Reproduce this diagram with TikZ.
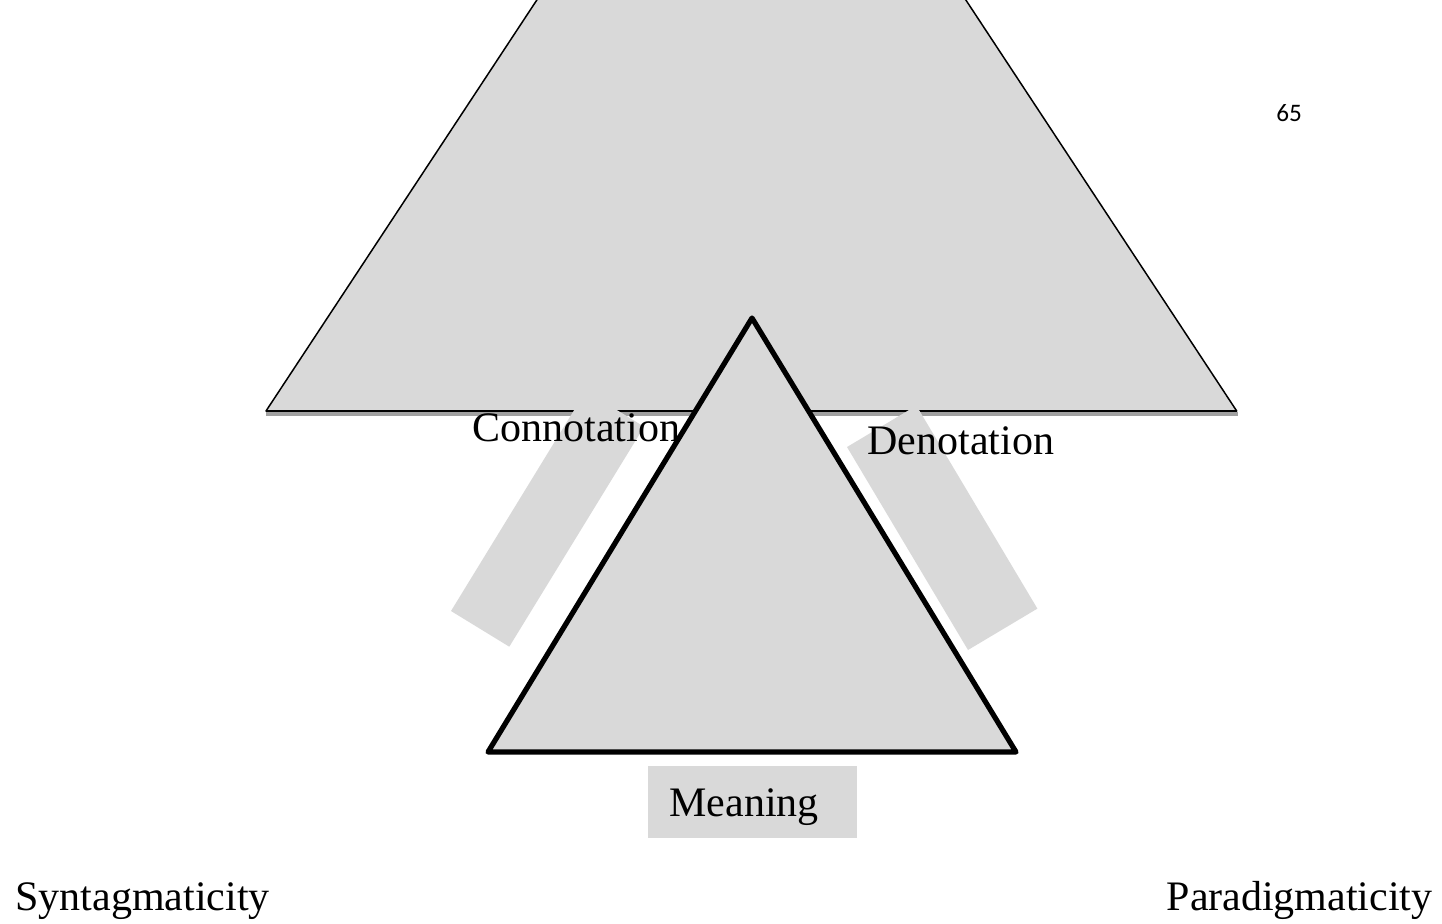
\documentclass[tikz,border=0pt]{standalone}
\usepackage{fontspec}
\setmainfont{Liberation Serif}
\newfontfamily\pagenumfont{Carlito}
\definecolor{shadegray}{HTML}{D9D9D9}
\definecolor{edgeshadow}{HTML}{A0A0A0}
\begin{document}
\begin{tikzpicture}[x=0.5pt,y=-0.5pt,
  panel/.style={fill=shadegray, draw=none},
  caption/.style={font=\fontsize{21}{25}\selectfont, inner sep=0pt, anchor=base west},
]
\useasboundingbox (0,0) rectangle (1442,923);
\clip (0,0) rectangle (1442,923);

% upper trapezoid (its top runs past the frame)
\draw[fill=shadegray, line width=0.75pt, line join=round]
  (563.2,-40) -- (266,411) -- (1236.7,411) -- (939.5,-40);
% its shadowed base line
\draw[edgeshadow, line width=2pt] (266,414) -- (1238,414);
\draw[line width=1.1pt] (266,411) -- (1236.7,411);

% slanted bands towards the lower triangle
\path[panel] (451,611) -- (509.3,646.7) -- (644.1,426.7) -- (585.8,391) -- cycle;
\path[panel] (847,447) -- (968,650) -- (1037.4,608.6) -- (916.4,405.6) -- cycle;

% lower triangle
\draw[fill=shadegray, line width=2.6pt, line join=round]
  (752,318) -- (1016,752) -- (488,752) -- cycle;

% box under the triangle
\node[fill=shadegray, draw=none, inner sep=0pt, anchor=north west,
      minimum width=104.5pt, minimum height=36pt] (meaningbox) at (648,766) {};

% labels
\node[caption] (conn) at (472,441.7) {Connotation};
\node[caption] (deno) at (867,454) {Denotation};
\node[caption] (mean) at (669,816) {Meaning};
\node[caption] (synt) at (15,910) {Syntagmaticity};
\node[caption, anchor=base east] (para) at (1433,910) {Paradigmaticity};
\node[font=\pagenumfont\fontsize{12.6}{15}\selectfont, inner sep=0pt, anchor=base west]
  (pnum) at (1276,121.7) {65};
\end{tikzpicture}
\end{document}
